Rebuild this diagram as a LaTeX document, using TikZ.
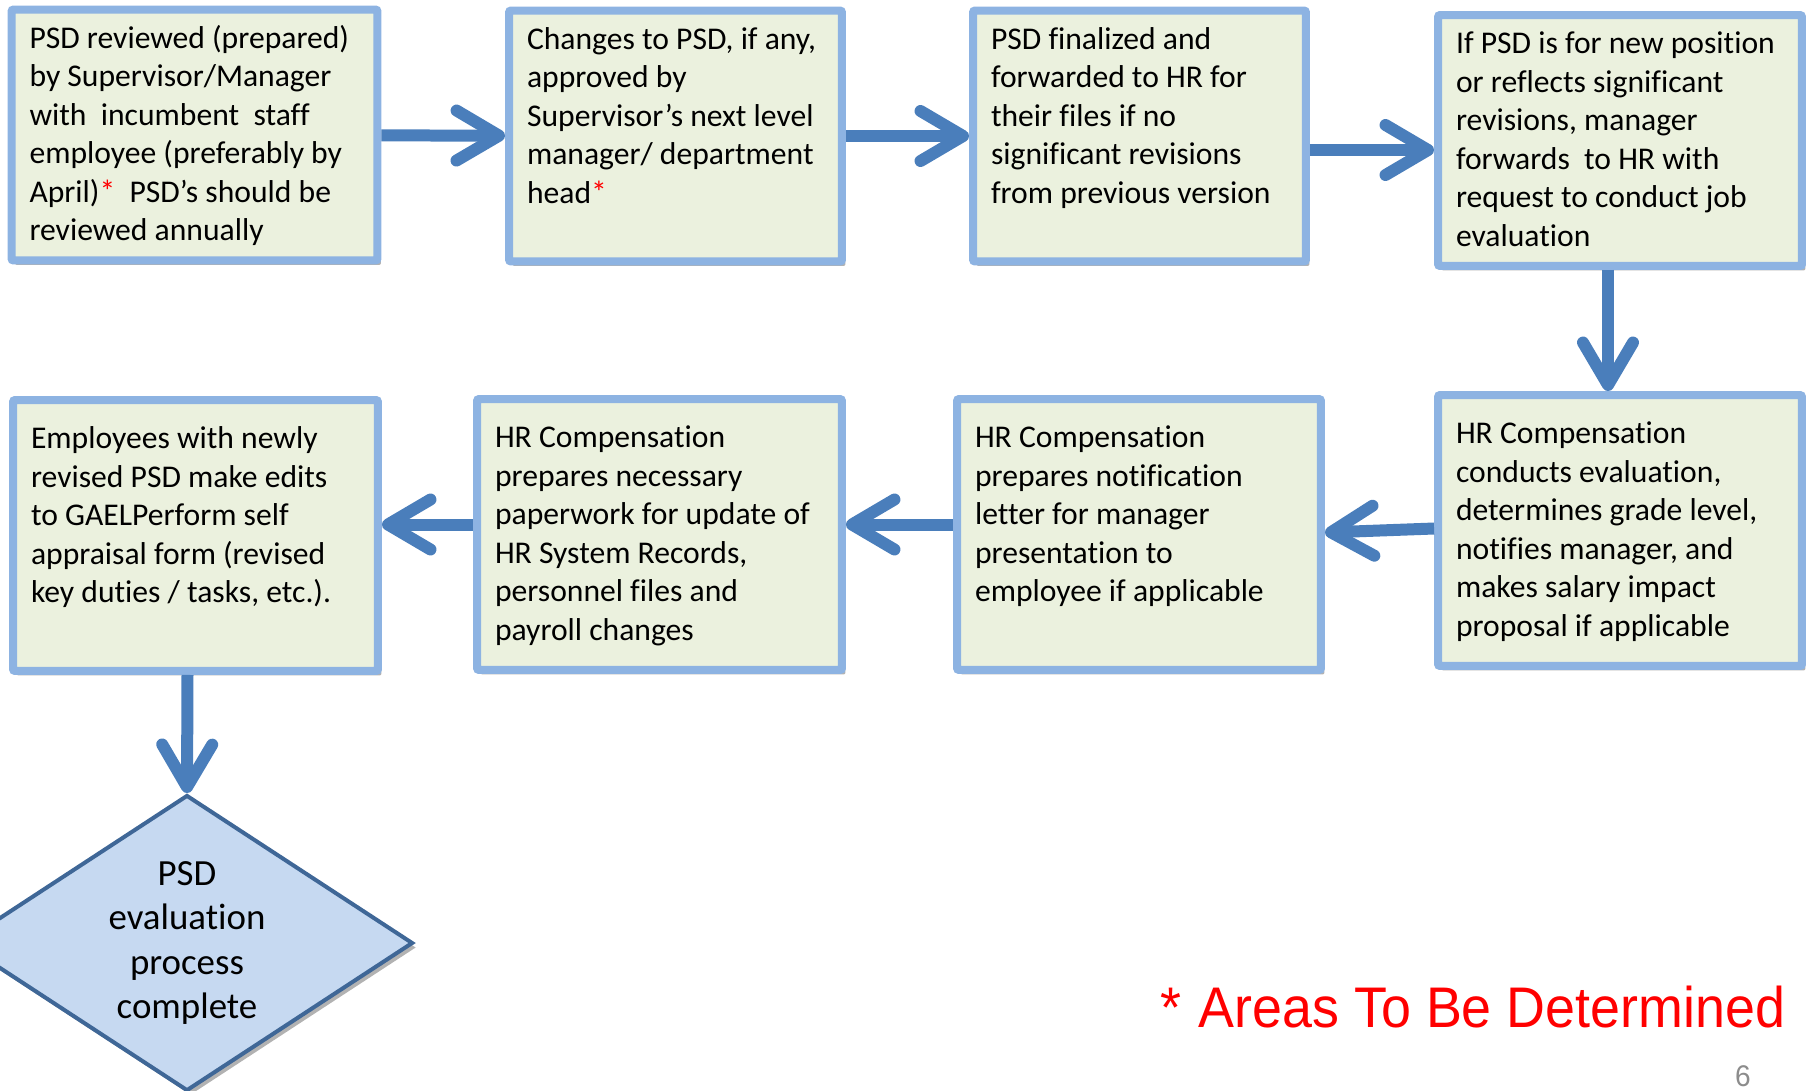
\documentclass[tikz,border=0pt]{standalone}
\usepackage{fontspec}
\usepackage{xcolor}
\usepackage{tikz}
\setmainfont{Carlito}[Ligatures={TeX,NoCommon}]
\newfontfamily\notefont[FakeStretch=0.94]{Liberation Sans}
\usetikzlibrary{shapes,arrows,positioning,calc,shadows,arrows.meta}

\definecolor{boxfill}{HTML}{EBF1DE}
\definecolor{boxline}{HTML}{8DB3E2}
\definecolor{arrowblue}{HTML}{4A7EBB}
\definecolor{diamondfill}{HTML}{C6D9F1}
\definecolor{diamondline}{HTML}{3F6797}
\definecolor{pagegray}{HTML}{8C8C8C}

\newcommand{\steptext}[2]{\parbox[c][4.54cm][t]{#1}{\begin{tabular}[t]{@{}l@{}}#2\end{tabular}}}

\tikzset{
    stepbox/.style={draw=boxline, fill=boxfill, line width=0.16cm, rounded corners=0.04cm,
        inner xsep=0.36cm, font=\fontsize{18}{21.9}\selectfont,
        drop shadow={shadow xshift=0.07cm, shadow yshift=-0.09cm, opacity=0.3, fill=black}},
    rowone/.style={stepbox, inner ysep=0.24cm},
    rowtwo/.style={stepbox, inner ysep=0.44cm},
    flow/.style={draw=arrowblue, line width=0.24cm, -{Straight Barb[length=0.85cm, width=1.0cm, round]}},
    donebox/.style={diamond, aspect=1.527, draw=diamondline, fill=diamondfill, line width=0.08cm,
        minimum width=9.04cm, minimum height=5.92cm, inner sep=0pt, align=center,
        font=\fontsize{21}{25.4}\selectfont,
        drop shadow={shadow xshift=0.07cm, shadow yshift=-0.09cm, opacity=0.3, fill=black}}
}

\begin{document}
\begin{tikzpicture}[x=0.02cm, y=-0.02cm]
    \useasboundingbox (0,0) rectangle (1813,1090);

    % top row
    \node[rowone] (b1) at (194.5,135) {\steptext{6.6cm}{PSD reviewed (prepared)\\by Supervisor/Manager\\with\ \ incumbent\ \ staff\\employee (preferably by\\April)\textcolor{red}{*}\ \ PSD’s should be\\reviewed annually}};
    \node[rowone] (b2) at (675.5,136) {\steptext{5.94cm}{Changes to PSD, if any,\\approved by\\Supervisor’s next level\\manager/ department\\head\textcolor{red}{*}}};
    \node[rowone] (b3) at (1139.5,136) {\steptext{5.94cm}{PSD finalized and\\forwarded to HR for\\their files if no\\significant revisions\\from previous version}};
    \node[rowone] (b4) at (1620,140.5) {\steptext{6.56cm}{If PSD is for new position\\or reflects significant\\revisions, manager\\forwards\ \ to HR with\\request to conduct job\\evaluation}};

    % bottom row
    \node[rowtwo] (b5) at (1620,530.5) {\steptext{6.56cm}{HR Compensation\\conducts evaluation,\\determines grade level,\\notifies manager, and\\makes salary impact\\proposal if applicable}};
    \node[rowtwo] (b6) at (1139,534.5) {\steptext{6.56cm}{HR Compensation\\prepares notification\\letter for manager\\presentation to\\employee if applicable}};
    \node[rowtwo] (b7) at (659.5,534.5) {\steptext{6.58cm}{HR Compensation\\prepares necessary\\paperwork for update of\\HR System Records,\\personnel files and\\payroll changes}};
    \node[rowtwo] (b8) at (195.5,535.5) {\steptext{6.58cm}{Employees with newly\\revised PSD make edits\\to GAELPerform self\\appraisal form (revised\\key duties / tasks, etc.).}};

    \node[donebox] (done) at (187,943) {PSD\\evaluation\\process\\complete};

    \draw[flow] (b1) -- (b2);
    \draw[flow] (b2) -- (b3);
    \draw[flow] ([yshift=-0.28cm]b3.east) -- ([yshift=-0.28cm]b3.east -| b4.west);
    \draw[flow] ([xshift=-0.24cm]b4.south) -- ([xshift=-0.24cm]b4.south |- b5.north);
    \draw[flow] ([yshift=0.04cm]b5.west) -- ([yshift=0.04cm]b6.east);
    \draw[flow] ([yshift=0.2cm]b6.west) -- ([yshift=0.2cm]b6.west -| b7.east);
    \draw[flow] ([yshift=0.2cm]b7.west) -- ([yshift=0.2cm]b7.west -| b8.east);
    \draw[flow] ([xshift=-0.16cm]b8.south) -- (done.north);

    \node[anchor=base west, text=red, font=\notefont\fontsize{32.6}{36}\selectfont] (tbd) at (1154,1027) {*\hspace{0.35cm}Areas To Be Determined};
    \node[text=pagegray, font=\notefont\fontsize{17}{20}\selectfont] (pagenum) at (1743,1076) {6};
\end{tikzpicture}
\end{document}
